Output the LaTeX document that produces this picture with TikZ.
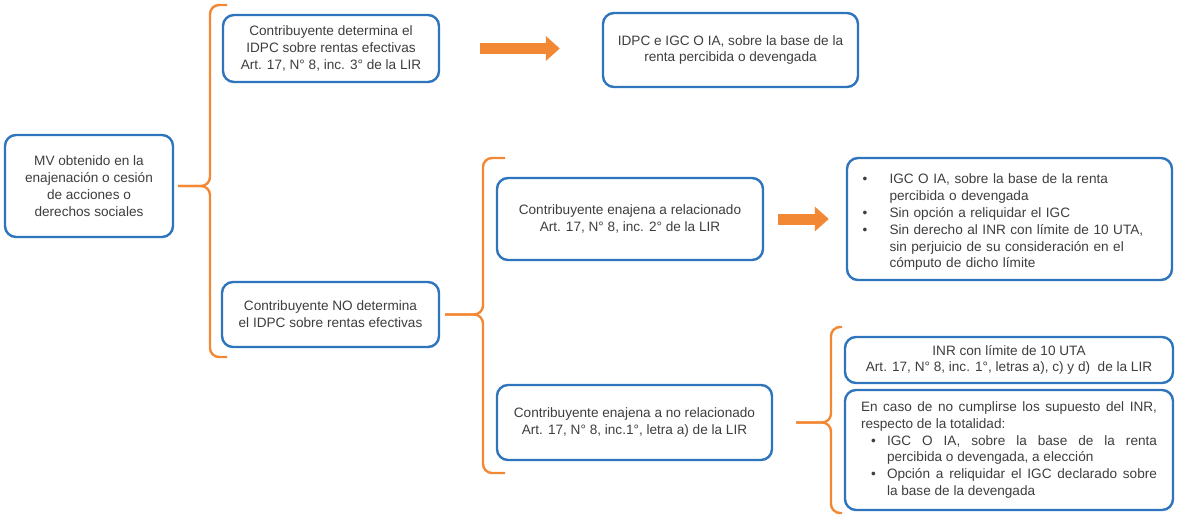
\documentclass[tikz,border=0pt]{standalone}
\usepackage{fontspec}
\setmainfont{Liberation Sans}
\usetikzlibrary{arrows.meta}

\definecolor{boxblue}{RGB}{46,117,189}
\definecolor{braceorange}{RGB}{243,136,52}
\definecolor{txtgray}{RGB}{62,62,62}

\newcommand{\litem}[1]{\par\hangindent=30pt\hangafter=1\noindent\makebox[30pt][l]{\hspace{3pt}\textbullet}#1\par}
\newcommand{\jitem}[1]{\par\hangindent=26pt\hangafter=1\noindent\makebox[26pt][l]{\hspace{10pt}\textbullet}#1\par}

\tikzset{
  box/.style={draw=boxblue, line width=2.4pt, rounded corners=11pt, fill=white,
    text=txtgray, align=center, inner sep=0pt, font=\fontsize{13.6}{16.8}\selectfont},
  brace/.style={draw=braceorange, line width=2.4pt, rounded corners=9pt},
  fatarrow/.style={draw=braceorange, line width=11pt, -{Triangle[length=14pt,width=24pt]}},
}

\begin{document}
\begin{tikzpicture}[x=1pt,y=-1pt]
\useasboundingbox (0,0) rectangle (1178,516);
%% boxes
\node[box, minimum width=168pt, minimum height=102pt] (mv) at (89,186)
  {MV obtenido en la\\enajenación o cesión\\de acciones o\\derechos sociales};
\node[box, minimum width=216pt, minimum height=67pt] (det) at (331,48.5)
  {Contribuyente determina el\\IDPC sobre rentas efectivas\\Art. 17, N° 8, inc. 3° de la LIR};
\node[box, minimum width=255pt, minimum height=74pt] (idpc) at (730.5,50)
  {IDPC e IGC O IA, sobre la base de la\\renta percibida o devengada};
\node[box, minimum width=217pt, minimum height=65pt] (nodet) at (330.5,314.5)
  {Contribuyente NO determina\\el IDPC sobre rentas efectivas};
\node[box, minimum width=266pt, minimum height=82pt] (rel) at (630,219)
  {Contribuyente enajena a relacionado\\Art. 17, N° 8, inc. 2° de la LIR};
\node[box, minimum width=325pt, minimum height=122pt, text width=300pt, align=left] (res1) at (1009.5,219)
  {\litem{IGC O IA, sobre la base de la renta\newline percibida o devengada}
   \litem{Sin opción a reliquidar el IGC}
   \litem{Sin derecho al INR con límite de 10 UTA,\newline sin perjuicio de su consideración en el\newline cómputo de dicho límite}};
\node[box, minimum width=275pt, minimum height=75pt] (norel) at (634.5,422.5)
  {Contribuyente enajena a no relacionado\\Art. 17, N° 8, inc.1°, letra a) de la LIR};
\node[box, minimum width=328pt, minimum height=46pt] (inr) at (1009,360)
  {INR con límite de 10 UTA\\Art. 17, N° 8, inc. 1°, letras a), c) y d)\ \ de la LIR};
\node[box, minimum width=328pt, minimum height=120pt, text width=296pt, align=justify] (caso) at (1009,450)
  {\noindent En caso de no cumplirse los supuesto del INR,\linebreak respecto de la totalidad:
   \jitem{IGC O IA, sobre la base de la renta\linebreak percibida o devengada, a elección}
   \jitem{Opción a reliquidar el IGC declarado sobre\linebreak la base de la devengada}};
%% braces
\draw[brace, shorten <=4pt] (mv.east) -- (210,186) -- (210,5) -- (227,5);
\draw[brace, shorten <=4pt] (mv.east) -- (210,186) -- (210,357) -- (227,357);
\draw[brace, shorten <=5pt] (nodet.east) -- (483,314.5) -- (483,158) -- (505,158);
\draw[brace, shorten <=5pt] (nodet.east) -- (483,314.5) -- (483,473) -- (505,473);
\draw[brace, shorten <=23pt] (norel.east) -- (831,422.5) -- (831,327) -- (842,327);
\draw[brace, shorten <=23pt] (norel.east) -- (831,422.5) -- (831,513) -- (842,513);
%% arrows
\draw[fatarrow, shorten <=40pt, shorten >=42pt] (det.east) -- (det.east -| idpc.west);
\draw[fatarrow, shorten <=14pt, shorten >=17pt] (rel.east) -- (rel.east -| res1.west);
\end{tikzpicture}
\end{document}
